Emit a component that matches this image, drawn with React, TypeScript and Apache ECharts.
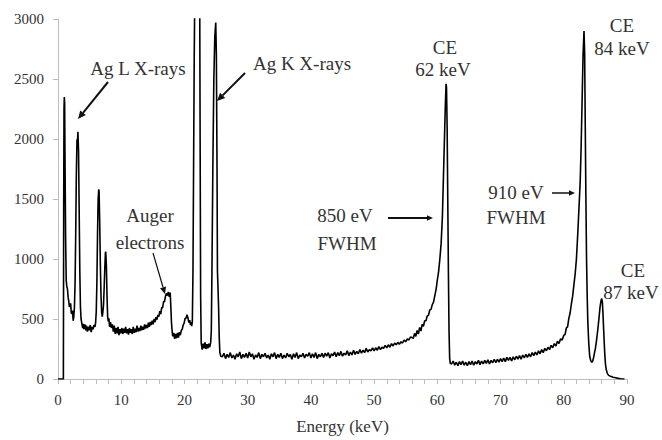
import { useEffect, useRef } from "react";
import * as echarts from "echarts";

const FONT = "Liberation Serif, Times New Roman, serif";

// Axis settings
const xMin = 0;
const xMax = 90;
const xStep = 10;
const yMin = 0;
const yMax = 3000;
const yStep = 500;
const xTitle = "Energy (keV)";

// Ag L X-ray region [keV, counts]
const lShellRegion: [number, number][] = [
  [0, 0], [0.5, 0], [0.85, 0], [0.9, 1400], [0.95, 2250], [1.0, 2350], [1.05, 2300],
  [1.1, 1900], [1.2, 1200], [1.3, 820], [1.4, 770], [1.5, 750], [1.6, 680], [1.7, 650],
  [1.8, 600], [1.9, 610], [2.0, 630], [2.1, 550], [2.2, 545], [2.3, 570], [2.4, 485],
  [2.5, 520], [2.6, 600], [2.7, 800], [2.8, 1200], [2.9, 1700], [3.0, 1990], [3.1, 2000],
  [3.15, 2060], [3.25, 1900], [3.35, 1400], [3.45, 900], [3.55, 600], [3.65, 500],
  [3.75, 470], [3.9, 425], [4.0, 460], [4.1, 415], [4.25, 455], [4.4, 405], [4.5, 445],
  [4.65, 395], [4.8, 435], [4.95, 405], [5.1, 450], [5.25, 390], [5.4, 435], [5.55, 415],
  [5.7, 450], [5.85, 435], [5.95, 470], [6.05, 560], [6.15, 800], [6.25, 1200], [6.35, 1500],
  [6.45, 1580], [6.5, 1560], [6.6, 1300], [6.7, 950], [6.8, 700], [6.9, 560], [7.0, 520],
  [7.1, 560], [7.2, 620], [7.3, 760], [7.4, 920], [7.5, 1050], [7.55, 1060], [7.65, 950],
  [7.75, 700], [7.85, 520], [7.95, 480], [8.05, 505], [8.15, 435], [8.3, 475], [8.45, 425],
  [8.6, 455],
];

// Auger electron region [keV, counts]
const augerRegion: [number, number][] = [
  [8.75, 395], [8.9, 445], [9.05, 375], [9.2, 425], [9.35, 380], [9.5, 435], [9.65, 365],
  [9.8, 415], [9.95, 380], [10.1, 425], [10.25, 375], [10.4, 420], [10.55, 385], [10.7, 435],
  [10.85, 380], [11.0, 415], [11.15, 370], [11.3, 425], [11.45, 385], [11.6, 415], [11.75, 375],
  [11.9, 435], [12.05, 385], [12.2, 420], [12.35, 390], [12.5, 445], [12.65, 395], [12.8, 425],
  [12.95, 400], [13.1, 445], [13.25, 405], [13.4, 435], [13.55, 410], [13.7, 455], [13.85, 420],
  [14.0, 450], [14.15, 425], [14.3, 470], [14.45, 435], [14.6, 475], [14.75, 450], [14.9, 485],
  [15.05, 455], [15.2, 500], [15.35, 475], [15.5, 515], [15.65, 495], [15.8, 535], [15.95, 520],
  [16.1, 565], [16.25, 540], [16.4, 595], [16.55, 595], [16.7, 645], [16.85, 645], [17.0, 690],
  [17.15, 715], [17.3, 695], [17.45, 725], [17.6, 685], [17.75, 720], [17.85, 600], [17.95, 470],
  [18.05, 400], [18.15, 355], [18.3, 385], [18.45, 335], [18.6, 375], [18.75, 340], [18.9, 385],
  [19.05, 345], [19.2, 390], [19.35, 365], [19.5, 405], [19.65, 415], [19.8, 450], [19.95, 465],
  [20.1, 505], [20.25, 505], [20.4, 535], [20.55, 510], [20.7, 470], [20.85, 490], [20.95, 450],
  [21.05, 475], [21.15, 440], [21.25, 480], [21.35, 900], [21.45, 1800], [21.55, 2700],
];

// Ag K X-ray region [keV, counts]
const kShellRegion: [number, number][] = [
  [21.65, 3300], [21.75, 3800], [22.05, 4200], [22.35, 3800], [22.42, 3100], [22.48, 2000],
  [22.56, 700], [22.65, 300], [22.75, 265], [22.8, 245], [22.95, 295], [23.1, 255], [23.25, 305],
  [23.4, 250], [23.55, 290], [23.7, 255], [23.85, 295], [24.0, 265], [24.15, 305], [24.25, 400],
  [24.35, 900], [24.5, 1800], [24.65, 2500], [24.8, 2850], [24.95, 2970], [25.05, 2700],
  [25.15, 1800], [25.22, 900], [25.3, 770], [25.4, 600], [25.5, 350], [25.6, 220],
];

// Continuum 25.75 – 56.0 keV, one value every 0.25 keV
const plateauStart = 25.75;
const plateauStep = 0.25;
const plateauCounts: number[] = [
  190,
  185, 215, 170, 205, 180, 220, 175, 200,
  165, 210, 185, 225, 170, 205, 180, 215,
  175, 225, 185, 210, 165, 200, 180, 220,
  170, 205, 185, 215, 175, 200, 165, 210,
  185, 220, 170, 205, 180, 215, 170, 200,
  175, 215, 185, 205, 165, 210, 180, 220,
  170, 200, 185, 215, 175, 205, 190, 220,
  175, 210, 180, 220, 170, 205, 185, 215,
  180, 215, 190, 220, 175, 210, 195, 225,
  185, 220, 195, 230, 190, 215, 200, 235,
  195, 225, 200, 240, 205, 230, 210, 245,
  215, 240, 220, 255, 225, 245, 235, 260,
  235, 260, 240, 270, 245, 265, 255, 280,
  260, 285, 265, 295, 275, 300, 285, 305,
  290, 310, 300, 325, 310, 335, 325, 350,
  345,
];

// CE 62 keV peak [keV, counts]
const ce62Region: [number, number][] = [
  [56.2, 340], [56.4, 380], [56.6, 355], [56.8, 405], [57.0, 375], [57.2, 430], [57.4, 400],
  [57.6, 455], [57.8, 440], [58.0, 485], [58.2, 485], [58.4, 525], [58.6, 530], [58.8, 575],
  [59.0, 580], [59.2, 620], [59.4, 640], [59.6, 695], [59.8, 745], [60.0, 825], [60.2, 895],
  [60.4, 1000], [60.6, 1130], [60.8, 1350], [60.95, 1650], [61.1, 1950], [61.25, 2250],
  [61.38, 2460], [61.45, 2430], [61.55, 2100], [61.65, 1500], [61.75, 900], [61.85, 400],
  [61.95, 170], [62.05, 130],
];

// Valley 62.25 – 80.0 keV, one value every 0.25 keV
const valleyStart = 62.25;
const valleyStep = 0.25;
const valleyCounts: number[] = [
  125, 150, 115, 140,
  110, 145, 120, 150, 115, 140, 110, 145,
  120, 150, 115, 145, 125, 155, 120, 150,
  125, 155, 130, 160, 125, 155, 135, 165,
  135, 165, 140, 170, 145, 175, 145, 180,
  155, 180, 150, 185, 160, 190, 165, 195,
  165, 200, 175, 205, 180, 210, 185, 220,
  195, 225, 200, 235, 210, 245, 220, 255,
  235, 265, 245, 280, 260, 295, 275, 315,
  295, 335, 325, 365,
];

// CE 84 keV and CE 87 keV peaks [keV, counts]
const ce84Region: [number, number][] = [
  [80.2, 370], [80.4, 425], [80.6, 435], [80.8, 505], [81.0, 550], [81.2, 625], [81.4, 690],
  [81.6, 785], [81.8, 875], [82.0, 1000], [82.2, 1200], [82.4, 1420], [82.6, 1650],
  [82.75, 1950], [82.9, 2320], [83.05, 2700], [83.2, 2900], [83.3, 2720], [83.4, 2100],
  [83.5, 1500], [83.6, 1000], [83.7, 700], [83.8, 480], [83.95, 300], [84.1, 190], [84.25, 155],
  [84.4, 140], [84.55, 145], [84.7, 175], [84.85, 215], [85.0, 255], [85.15, 310], [85.3, 375],
  [85.45, 445], [85.6, 525], [85.75, 605], [85.9, 655], [86.0, 670], [86.1, 645], [86.2, 545],
  [86.3, 420], [86.4, 300], [86.5, 195], [86.6, 120], [86.75, 70], [86.9, 45], [87.1, 30],
  [87.4, 22], [87.8, 15], [88.2, 10], [88.6, 5], [89.0, 2], [89.6, 0],
];

function gridSeries(start: number, step: number, vals: number[]): [number, number][] {
  return vals.map((v, i) => [+(start + i * step).toFixed(3), v]);
}

const spectrum: [number, number][] = [
  ...lShellRegion,
  ...augerRegion,
  ...kShellRegion,
  ...gridSeries(plateauStart, plateauStep, plateauCounts),
  ...ce62Region,
  ...gridSeries(valleyStart, valleyStep, valleyCounts),
  ...ce84Region,
];

function arrow(x1: number, y1: number, x2: number, y2: number, w: number, head: number) {
  const ang = Math.atan2(y2 - y1, x2 - x1);
  const hw = head * 0.45;
  const bx = x2 - head * Math.cos(ang);
  const by = y2 - head * Math.sin(ang);
  const px = -Math.sin(ang) * hw;
  const py = Math.cos(ang) * hw;
  return [
    { type: "line", silent: true, shape: { x1, y1, x2: bx, y2: by }, style: { stroke: "#111", lineWidth: w } },
    {
      type: "polygon",
      silent: true,
      shape: { points: [[x2, y2], [bx + px, by + py], [bx - px, by - py]] },
      style: { fill: "#111" },
    },
  ];
}

function label(text: string, x: number, y: number, size = 19) {
  return {
    type: "text",
    silent: true,
    x,
    y,
    style: {
      text,
      fontSize: size,
      fontFamily: FONT,
      fill: "#333",
      align: "center",
      verticalAlign: "middle",
    },
  };
}

const tickText = { fontFamily: FONT, fontSize: 15, color: "#333" };

export default function App() {
  const ref = useRef<HTMLDivElement>(null);
  useEffect(() => {
    if (!ref.current) return;
    const chart = echarts.init(ref.current, undefined, { renderer: "svg" });
    chart.setOption({
      animation: false,
      backgroundColor: "#fff",
      textStyle: { fontFamily: FONT },
      grid: { left: 58, right: 35, top: 19, bottom: 53, containLabel: false },
      xAxis: {
        type: "value",
        min: xMin,
        max: xMax,
        interval: xStep,
        name: xTitle,
        nameLocation: "middle",
        nameGap: 39,
        nameTextStyle: { fontFamily: FONT, fontSize: 17, color: "#333" },
        axisLine: { show: true, lineStyle: { color: "#bdbdbd", width: 1 } },
        axisTick: { show: true, length: 5, lineStyle: { color: "#bdbdbd" } },
        minorTick: { show: true, splitNumber: 5, length: 5, lineStyle: { color: "#bdbdbd" } },
        splitLine: { show: false },
        axisLabel: {
          ...tickText,
          margin: 13,
          formatter: (v: number) => `{t|${v}}`,
          rich: { t: { ...tickText } },
        },
      },
      yAxis: {
        type: "value",
        min: yMin,
        max: yMax,
        interval: yStep,
        axisLine: { show: true, lineStyle: { color: "#bdbdbd", width: 1 } },
        axisTick: { show: true, length: 5, lineStyle: { color: "#bdbdbd" } },
        splitLine: { show: false },
        axisLabel: {
          ...tickText,
          margin: 14,
          formatter: (v: number) => `{t|${v}}`,
          rich: { t: { ...tickText } },
        },
      },
      series: [
        {
          type: "line",
          data: spectrum,
          showSymbol: false,
          clip: true,
          lineStyle: { color: "#000", width: 1.6 },
          silent: true,
        },
      ],
      graphic: [
        label("Ag L X-rays", 138, 68),
        ...arrow(108, 82, 78, 119, 2, 8),
        label("Ag K X-rays", 302, 63),
        ...arrow(245, 73, 217, 101, 2, 8),
        label("Auger", 150, 215),
        label("electrons", 150, 242),
        ...arrow(153, 253, 165, 294, 1.2, 7),
        label("CE", 445, 47),
        label("62 keV", 443, 69),
        label("CE", 622, 25),
        label("84 keV", 622, 48),
        label("850 eV", 345, 215),
        label("FWHM", 347, 243),
        ...arrow(388, 218, 433, 218, 2, 6),
        label("910 eV", 516, 192),
        label("FWHM", 516, 217),
        ...arrow(552, 193, 575, 193, 1.5, 6),
        label("CE", 633, 270),
        label("87 keV", 631, 292),
      ],
    });
    return () => chart.dispose();
  }, []);
  return (
    <div
      ref={ref}
      style={{ position: "fixed", left: 0, top: 0, width: 662, height: 440, background: "#fff" }}
    />
  );
}
